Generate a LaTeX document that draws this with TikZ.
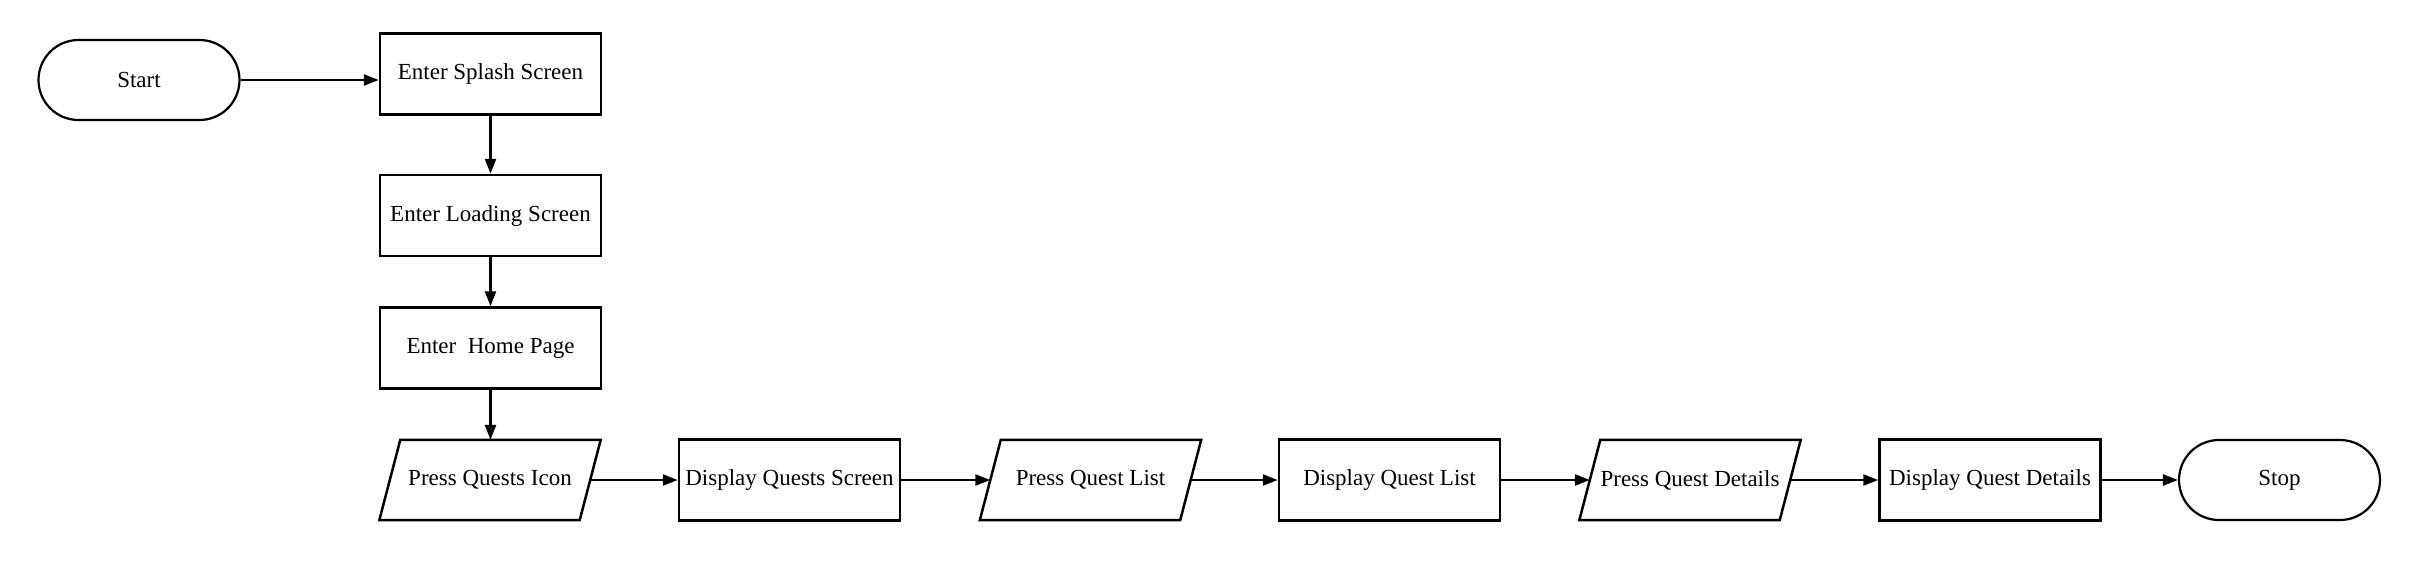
\documentclass[tikz,border=0pt]{standalone}
\usepackage{fontspec}
\setmainfont{Liberation Serif}
\usetikzlibrary{arrows.meta}
\begin{document}
\begin{tikzpicture}[x=1pt,y=-1pt,
  every node/.style={font=\fontsize{23}{27}\selectfont, inner sep=0pt},
  procbox/.style={draw, line width=2.5pt, minimum width=221pt, minimum height=81pt},
  termbox/.style={draw, line width=2.2pt, rounded corners=40pt, minimum width=201pt, minimum height=80pt},
  iobox/.style={minimum width=221pt, minimum height=80pt},
  ioedge/.style={line width=2.5pt, line join=miter},
  flow/.style={line width=2.5pt, -{Triangle[length=15pt,width=11pt]}}
]
\useasboundingbox (0,0) rectangle (2420,560);
\node[termbox] (start) at (139,80) {Start};
\node[procbox] (splash) at (490.5,74) {Enter Splash Screen};
\node[procbox] (loading) at (490.5,215.5) {Enter Loading Screen};
\node[procbox] (home) at (490.5,348) {Enter~ Home Page};
\node[iobox] (pqi) at (490,480) {Press Quests Icon};
\node[procbox] (dqs) at (789.5,480) {Display Quests Screen};
\node[iobox] (pql) at (1090.5,480) {Press Quest List};
\node[procbox] (dql) at (1389.5,480) {Display Quest List};
\node[iobox] (pqd) at (1690,480) {Press Quest Details};
\node[procbox] (dqd) at (1990,480) {Display Quest Details};
\node[termbox] (stop) at (2279.5,480) {Stop};

\foreach \n in {pqi,pql,pqd}{
  \draw[ioedge] ([xshift=21pt]\n.north west) -- (\n.north east) -- ([xshift=-21pt]\n.south east) -- (\n.south west) -- cycle;
  \coordinate (\n-l) at ([xshift=10.5pt]\n.west);
  \coordinate (\n-r) at ([xshift=-10.5pt]\n.east);
}

\draw[flow] (start.east) -- (start.east -| splash.west);
\draw[flow] (splash) -- (loading);
\draw[flow] (loading) -- (home);
\draw[flow] (home.south) -- (pqi.north -| home.south);
\draw[flow] (pqi-r) -- (dqs);
\draw[flow] (dqs) -- (pql-l);
\draw[flow] (pql-r) -- (dql);
\draw[flow] (dql) -- (pqd-l);
\draw[flow] (pqd-r) -- (dqd);
\draw[flow] (dqd) -- (stop);
\end{tikzpicture}
\end{document}
